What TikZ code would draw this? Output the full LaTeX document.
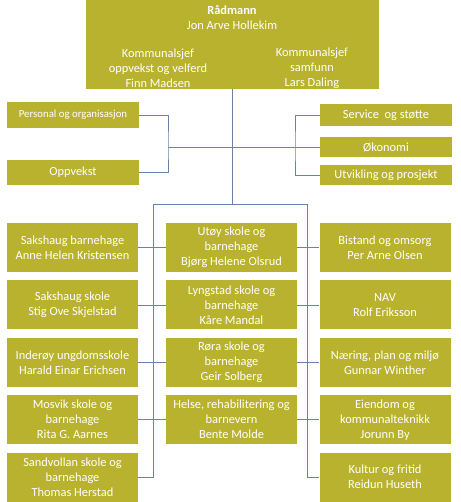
\documentclass[tikz,border=0pt]{standalone}
\usepackage{fontspec}
\setmainfont{Carlito}
\usetikzlibrary{positioning}
\definecolor{orgfill}{RGB}{185,178,46}
\definecolor{orgline}{RGB}{104,130,168}

\begin{document}
\begin{tikzpicture}[
x=1pt,y=-1pt,
node distance=8pt,
unit/.style={fill=orgfill,text=white,align=center,inner sep=1pt,
minimum width=131pt,minimum height=49pt,
font=\fontsize{12.4}{15}\selectfont},
staff/.style={unit,minimum width=132pt,minimum height=22pt},
label/.style={text=white,align=center,inner sep=0pt,
font=\fontsize{12.4}{15}\selectfont},
link/.style={draw=orgline,line width=0.8pt}]

\useasboundingbox (0,0) rectangle (460,502);

% top
\node[fill=orgfill,minimum width=293pt,minimum height=89pt] (rad) at (232.5,44.5) {};
\node[label] (radtxt) at (232,17.5) {\textbf{Rådmann}\\Jon Arve Hollekim};
\node[label] (ks1) at (158,68.5) {Kommunalsjef\\oppvekst og velferd\\Finn Madsen};
\node[label] (ks2) at (312,68.5) {Kommunalsjef\\samfunn\\Lars Daling};

% staff
\node[staff,minimum height=26pt,font=\fontsize{10.8}{13}\selectfont] (pers) at (73,115) {Personal og organisasjon};
\node[staff,minimum height=25pt] (opp) at (73,172.5) {Oppvekst};
\node[staff] (serv) at (386,115) {Service\ \ og støtte};
\node[staff,minimum height=20pt] (okon) at (386,147) {Økonomi};
\node[staff,minimum height=20pt] (utv) at (386,175) {Utvikling og prosjekt};

% left column
\node[unit] (sbh) at (72.5,247.5) {Sakshaug barnehage\\Anne Helen Kristensen};
\node[unit,below=of sbh] (ssk) {Sakshaug skole\\Stig Ove Skjelstad};
\node[unit,below=of ssk] (ind) {Inderøy ungdomsskole\\Harald Einar Erichsen};
\node[unit,below=of ind] (mos) {Mosvik skole og\\barnehage\\Rita G. Aarnes};
\node[unit,below=of mos] (sand) {Sandvollan skole og\\barnehage\\Thomas Herstad};

% middle column
\node[unit] (uto) at (231.5,247.5) {Utøy skole og\\barnehage\\Bjørg Helene Olsrud};
\node[unit,below=of uto] (lyn) {Lyngstad skole og\\barnehage\\Kåre Mandal};
\node[unit,below=of lyn] (ror) {Røra skole og\\barnehage\\Geir Solberg};
\node[unit,below=of ror] (hel) {Helse, rehabilitering og\\barnevern\\Bente Molde};

% right column
\node[unit] (bis) at (385,247.5) {Bistand og omsorg\\Per Arne Olsen};
\node[unit,below=of bis] (nav) {NAV\\Rolf Eriksson};
\node[unit,below=of nav] (nae) {Næring, plan og miljø\\Gunnar Winther};
\node[unit,below=of nae] (eie) {Eiendom og\\kommunalteknikk\\Jorunn By};
\node[unit,below=of eie] (kul) {Kultur og fritid\\Reidun Huseth};

% lines
\coordinate (lbus) at (153,204);
\coordinate (rbus) at (307,204);
\coordinate (lj) at (168,147);
\coordinate (rj) at (295,147);

\draw[link] (rad.south) -- (rad.south |- lbus);
\draw[link] (lbus) -- (rbus);
\draw[link] (lbus) |- (sand.east);
\draw[link] (rbus) |- (kul.west);

\draw[link] (pers.east) -| (lj) |- (opp.east);
\draw[link] (lj) -- (okon.west);
\draw[link] (serv.west) -| (rj) |- (utv.west);

\draw[link] (sbh) -- (uto) -- (bis);
\draw[link] (ssk) -- (lyn) -- (nav);
\draw[link] (ind) -- (ror) -- (nae);
\draw[link] (mos) -- (hel) -- (eie);

\end{tikzpicture}
\end{document}
